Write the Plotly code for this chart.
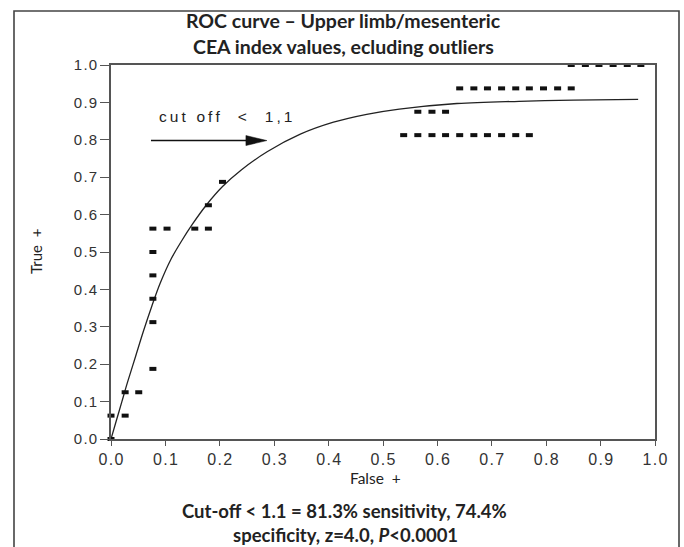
import plotly.graph_objects as go

# ---------------- data ----------------
# empirical ROC points (false positive fraction, true positive fraction)
emp_fpr = [0.0,
           0.0, 0.026,
           0.026, 0.051,
           0.077,
           0.077, 0.077, 0.077, 0.077,
           0.077, 0.103, 0.154, 0.179,
           0.179,
           0.205,
           0.538, 0.564, 0.590, 0.615, 0.641, 0.667, 0.692, 0.718, 0.744, 0.769,
           0.564, 0.590, 0.615,
           0.641, 0.667, 0.692, 0.718, 0.744, 0.769, 0.795, 0.821, 0.846,
           0.846, 0.872, 0.897, 0.923, 0.949, 0.974]
emp_tpr = [0.0,
           0.0625, 0.0625,
           0.125, 0.125,
           0.1875,
           0.3125, 0.375, 0.4375, 0.5,
           0.5625, 0.5625, 0.5625, 0.5625,
           0.625,
           0.6875,
           0.8125, 0.8125, 0.8125, 0.8125, 0.8125, 0.8125, 0.8125, 0.8125, 0.8125, 0.8125,
           0.875, 0.875, 0.875,
           0.9375, 0.9375, 0.9375, 0.9375, 0.9375, 0.9375, 0.9375, 0.9375, 0.9375,
           1.0, 1.0, 1.0, 1.0, 1.0, 1.0]

# fitted ROC curve
fit_fpr = [0.0, 0.010, 0.020, 0.030, 0.045, 0.060, 0.075, 0.090, 0.110, 0.130,
           0.150, 0.175, 0.205, 0.240, 0.287, 0.348, 0.409, 0.470, 0.530, 0.636,
           0.750, 0.850, 0.969]
fit_tpr = [0.0, 0.050, 0.100, 0.150, 0.220, 0.290, 0.355, 0.415, 0.480, 0.530,
           0.575, 0.625, 0.675, 0.720, 0.768, 0.815, 0.847, 0.868, 0.882, 0.897,
           0.903, 0.906, 0.908]

tick_vals = [0.0, 0.1, 0.2, 0.3, 0.4, 0.5, 0.6, 0.7, 0.8, 0.9, 1.0]
tick_labels = ["0.0", "0.1", "0.2", "0.3", "0.4", "0.5", "0.6", "0.7", "0.8", "0.9", "1.0"]

title_lines = ["ROC curve – Upper limb/mesenteric", "CEA index values, ecluding outliers"]
x_title = "False  +"
y_title = "True  +"
note_lines = ["Cut-off &lt; 1.1 = 81.3% sensitivity, 74.4%",
              "specificity, z=4.0, <i>P</i>&lt;0.0001"]
cutoff_label = "cut off  <  1,1"

# ---------------- figure ----------------
TS = "\u2009"
HS = "\u200a"
NB = "\u00a0"
spaced_ticks = [s.replace(".", HS + "." + HS) for s in tick_labels]
spaced_cut = TS.join([c if c != " " else NB for c in cutoff_label])

W, H = 684, 547
ML, MR, MT, MB = 111, 29, 65, 108
PW, PH = W - ML - MR, H - MT - MB


def px(xp):
    return (xp - ML) / PW


def py(yp):
    return (H - MB - yp) / PH


fig = go.Figure()
fig.add_trace(go.Scatter(x=fit_fpr, y=fit_tpr, mode="lines",
                         line=dict(color="#222222", width=1.3, shape="spline", smoothing=1.0),
                         hoverinfo="skip", showlegend=False))
fig.add_trace(go.Scatter(x=emp_fpr, y=emp_tpr, mode="markers",
                         marker=dict(symbol="line-ew", size=5,
                                     line=dict(color="#111111", width=4)),
                         cliponaxis=False, showlegend=False))

axis_common = dict(range=[0, 1], showgrid=False, zeroline=False, showline=True,
                   linecolor="#555555", linewidth=1.6, mirror=True, ticks="outside",
                   tickcolor="#555555", tickwidth=1.4, tickvals=tick_vals,
                   ticktext=spaced_ticks)
fig.update_xaxes(**axis_common, ticklen=5,
                 tickfont=dict(family="Liberation Sans, Arial", size=16, color="#333333"))
fig.update_yaxes(**axis_common, ticklen=9,
                 tickfont=dict(family="Liberation Sans, Arial", size=15, color="#333333"))

ann = []
ann.append(dict(text="<b>" + title_lines[0] + "</b>", x=px(343), y=py(21), xref="paper", yref="paper",
                showarrow=False, xanchor="center", yanchor="middle",
                font=dict(family="Lato", size=19.5, color="#222222")))
ann.append(dict(text="<b>" + title_lines[1] + "</b>", x=px(343), y=py(46), xref="paper", yref="paper",
                showarrow=False, xanchor="center", yanchor="middle",
                font=dict(family="Lato", size=19.5, color="#222222")))
ann.append(dict(text=x_title.replace(" ", NB), x=px(375), y=py(478), xref="paper", yref="paper",
                showarrow=False, xanchor="center", yanchor="middle",
                font=dict(family="Lato", size=15.5, color="#222222")))
ann.append(dict(text=y_title.replace(" ", NB), x=px(36), y=py(252), xref="paper", yref="paper",
                textangle=-90, showarrow=False, xanchor="center", yanchor="middle",
                font=dict(family="Lato", size=15, color="#222222")))
ann.append(dict(text="<b>" + note_lines[0] + "</b>", x=px(344), y=py(511), xref="paper", yref="paper",
                showarrow=False, xanchor="center", yanchor="middle",
                font=dict(family="Lato", size=18.5, color="#222222")))
ann.append(dict(text="<b>" + note_lines[1] + "</b>", x=px(345), y=py(535), xref="paper", yref="paper",
                showarrow=False, xanchor="center", yanchor="middle",
                font=dict(family="Lato", size=18.5, color="#222222")))
ann.append(dict(text=spaced_cut, x=0.2096, y=0.8636, xref="x", yref="y",
                showarrow=False, xanchor="center", yanchor="middle",
                font=dict(family="Liberation Sans, Arial", size=15.5, color="#222222")))
fig.update_layout(annotations=ann)

# arrow: shaft + elongated head
ay = 0.798
x_start, x_tip = 0.0735, 0.2866
head_len = 21 / PW
head_half = 5 / PH
shapes = [
    dict(type="line", xref="x", yref="y", x0=x_start, x1=x_tip - head_len * 0.5, y0=ay, y1=ay,
         line=dict(color="#111111", width=1.6)),
    dict(type="path", xref="x", yref="y",
         path=f"M {x_tip} {ay} L {x_tip - head_len} {ay + head_half} L {x_tip - head_len} {ay - head_half} Z",
         fillcolor="#111111", line=dict(color="#111111", width=0.5)),
    # outer frame
    dict(type="rect", xref="paper", yref="paper", x0=px(14), x1=px(679), y0=py(570), y1=py(11),
         line=dict(color="#444444", width=1.6), fillcolor="rgba(0,0,0,0)", layer="above"),
]
fig.update_layout(shapes=shapes)

fig.update_layout(width=W, height=H, margin=dict(l=ML, r=MR, t=MT, b=MB, pad=0),
                  paper_bgcolor="white", plot_bgcolor="white", showlegend=False)

fig.write_html("out.html", config={"displayModeBar": False},
               post_script="document.body.style.margin='0px';document.body.style.overflow='hidden';")
